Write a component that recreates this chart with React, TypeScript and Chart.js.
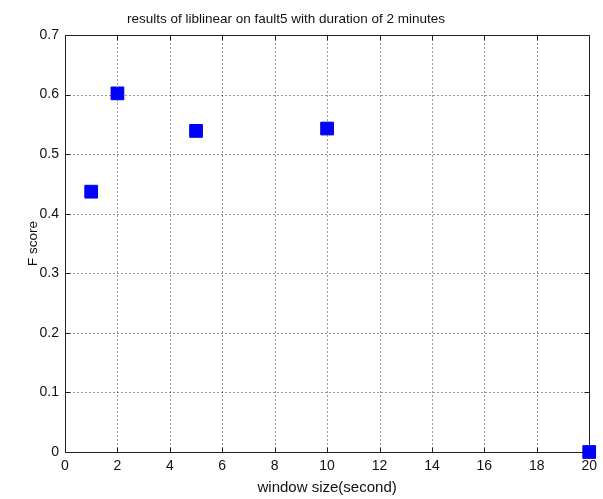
import React, { useEffect, useRef } from "react";
import { Chart, registerables } from "chart.js";

Chart.register(...registerables);

const windowSizes = [1, 2, 5, 10, 20];
const fScores = [0.437, 0.602, 0.539, 0.543, 0.0];
const xTicks = [0, 2, 4, 6, 8, 10, 12, 14, 16, 18, 20];
const yTicks = [0, 0.1, 0.2, 0.3, 0.4, 0.5, 0.6, 0.7];
const titleText = "results of liblinear on fault5 with duration of 2 minutes";
const xLabel = "window size(second)";
const yLabel = "F score";

const FONT = "'Liberation Sans', Arial, sans-serif";

const titleShift = {
  id: "titleShift",
  afterLayout(chart: any) {
    const tb = chart.titleBlock;
    if (tb) {
      tb.left = 0;
      tb.right = 572;
      tb.width = 572;
    }
  },
};

const framePlugin = {
  id: "matlabFrame",
  beforeDatasetsDraw(chart: any) {
    const { ctx, chartArea } = chart;
    const xs = chart.scales.x;
    const ys = chart.scales.y;
    const L = Math.round(chartArea.left) + 0.5;
    const R = Math.round(chartArea.right) + 0.5;
    const T = Math.round(chartArea.top) + 0.5;
    const B = Math.round(chartArea.bottom) + 0.5;
    ctx.save();
    ctx.strokeStyle = "#333";
    ctx.lineWidth = 1;
    ctx.setLineDash([1, 3]);
    ctx.beginPath();
    xTicks.forEach((v) => {
      const px = Math.round(xs.getPixelForValue(v)) + 0.5;
      if (px <= L + 1 || px >= R - 1) return;
      ctx.moveTo(px, B);
      ctx.lineTo(px, T);
    });
    yTicks.forEach((v) => {
      const py = Math.round(ys.getPixelForValue(v)) + 0.5;
      if (py <= T + 1 || py >= B - 1) return;
      ctx.moveTo(L, py);
      ctx.lineTo(R, py);
    });
    ctx.stroke();
    ctx.setLineDash([]);
    ctx.strokeStyle = "#222";
    ctx.beginPath();
    const tl = 5;
    xTicks.forEach((v) => {
      const px = Math.round(xs.getPixelForValue(v)) + 0.5;
      ctx.moveTo(px, B);
      ctx.lineTo(px, B - tl);
      ctx.moveTo(px, T);
      ctx.lineTo(px, T + tl);
    });
    yTicks.forEach((v) => {
      const py = Math.round(ys.getPixelForValue(v)) + 0.5;
      ctx.moveTo(L, py);
      ctx.lineTo(L + tl, py);
      ctx.moveTo(R, py);
      ctx.lineTo(R - tl, py);
    });
    ctx.stroke();
    ctx.beginPath();
    ctx.rect(L, T, R - L, B - T);
    ctx.stroke();
    ctx.restore();
  },
};

export default function App() {
  const ref = useRef<HTMLCanvasElement | null>(null);
  useEffect(() => {
    if (!ref.current) return;
    const chart = new Chart(ref.current, {
      type: "scatter",
      data: {
        datasets: [
          {
            data: windowSizes.map((x, i) => ({ x, y: fScores[i] })),
            backgroundColor: "#0000ff",
            borderColor: "#0000e0",
            borderWidth: 1,
            pointStyle: "rect",
            pointRadius: 9,
            pointHoverRadius: 9,
            clip: false,
          } as any,
        ],
      },
      options: {
        animation: false,
        responsive: false,
        events: [],
        layout: { padding: { top: 0, right: 10, left: 0, bottom: 0 } },
        plugins: {
          legend: { display: false },
          tooltip: { enabled: false },
          title: {
            display: true,
            text: titleText,
            color: "#111",
            font: { family: FONT, size: 13.5, weight: "normal" },
            padding: { top: 11, bottom: 7.8 },
          },
        },
        scales: {
          x: {
            type: "linear",
            min: 0,
            max: 20,
            afterBuildTicks: (s: any) => {
              s.ticks = xTicks.map((v) => ({ value: v }));
            },
            afterFit: (s: any) => {
              s.height = 47;
            },
            ticks: {
              color: "#111",
              font: { family: FONT, size: 14 },
              padding: 6,
              maxRotation: 0,
              autoSkip: false,
            },
            grid: { display: false, drawTicks: false },
            border: { display: false },
            title: {
              display: true,
              text: xLabel,
              color: "#111",
              font: { family: FONT, size: 15 },
              padding: { top: 0, bottom: 2 },
            },
          },
          y: {
            type: "linear",
            min: 0,
            max: 0.7,
            afterBuildTicks: (s: any) => {
              s.ticks = yTicks.map((v) => ({ value: v }));
            },
            afterFit: (s: any) => {
              s.width = 65;
            },
            ticks: {
              color: "#111",
              font: { family: FONT, size: 14 },
              padding: 6,
              autoSkip: false,
              callback: (v: any) => String(Math.round(Number(v) * 10) / 10),
            },
            grid: { display: false, drawTicks: false },
            border: { display: false },
            title: {
              display: true,
              text: yLabel,
              color: "#111",
              font: { family: FONT, size: 13.5 },
              padding: { top: 25, bottom: 0 },
            },
          },
        },
      },
      plugins: [titleShift, framePlugin],
    });
    return () => chart.destroy();
  }, []);
  return (
    <div style={{ position: "fixed", left: 0, top: 0, width: 603, height: 499, background: "#fff" }}>
      <canvas ref={ref} width={603} height={499} style={{ display: "block" }} />
    </div>
  );
}
